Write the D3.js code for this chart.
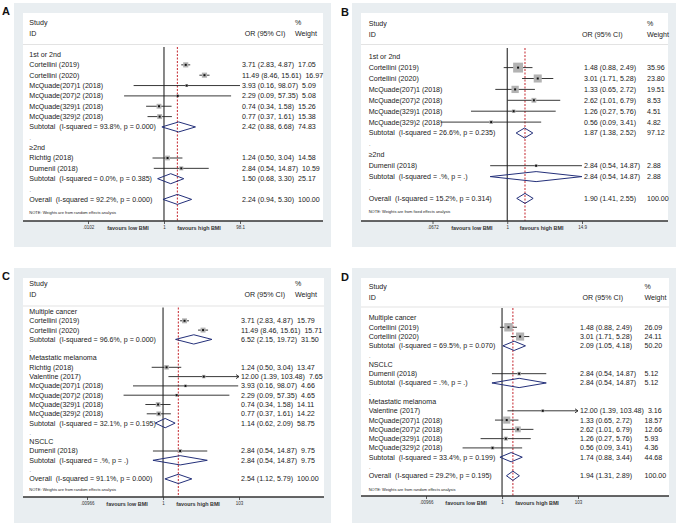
<!DOCTYPE html>
<html><head><meta charset="utf-8">
<script src="https://cdn.jsdelivr.net/npm/d3@7"></script>
<style>
html,body{margin:0;padding:0;background:#fff;}
svg{display:block;font-family:"Liberation Sans", Arial, Helvetica, sans-serif;}
text{white-space:pre;}
</style></head><body>
<svg id="chart" width="676" height="525"></svg>
<script>
// ---------- DATA ----------
// Panel A
const aLabels = ["1st or 2nd","Cortellini (2019)","Cortellini (2020)","McQuade(207)1 (2018)","McQuade(207)2 (2018)","McQuade(329)1 (2018)","McQuade(329)2 (2018)","Subtotal  (I-squared = 93.8%, p = 0.000)",".","\u22652nd","Richtig (2018)","Dumenil (2018)","Subtotal  (I-squared = 0.0%, p = 0.385)",".","Overall  (I-squared = 92.2%, p = 0.000)"];
const aKind = ["head","study","study","study","study","study","study","sub","blank","head","study","study","sub","blank","overall"];
const aOR = [null,3.71,11.49,3.93,2.29,0.74,0.77,2.42,null,null,1.24,2.84,1.50,null,2.24];
const aLo = [null,2.83,8.46,0.16,0.09,0.34,0.37,0.88,null,null,0.50,0.54,0.68,null,0.94];
const aHi = [null,4.87,15.61,98.07,57.35,1.58,1.61,6.68,null,null,3.04,14.87,3.30,null,5.30];
const aWt = [null,17.05,16.97,5.09,5.08,15.26,15.38,74.83,null,null,14.58,10.59,25.17,null,100.00];
const aTicks = [0.0102,1,98.1];
const aTickLabels = [".0102","1","98.1"];
const aNote = "NOTE: Weights are from random effects analysis";

// Panel B
const bLabels = ["1st or 2nd","Cortellini (2019)","Cortellini (2020)","McQuade(207)1 (2018)","McQuade(207)2 (2018)","McQuade(329)1 (2018)","McQuade(329)2 (2018)","Subtotal  (I-squared = 26.6%, p = 0.235)",".","\u22652nd","Dumenil (2018)","Subtotal  (I-squared = .%, p = .)",".","Overall  (I-squared = 15.2%, p = 0.314)"];
const bKind = ["head","study","study","study","study","study","study","sub","blank","head","study","sub","blank","overall"];
const bOR = [null,1.48,3.01,1.33,2.62,1.26,0.56,1.87,null,null,2.84,2.84,null,1.90];
const bLo = [null,0.88,1.71,0.65,1.01,0.27,0.09,1.38,null,null,0.54,0.54,null,1.41];
const bHi = [null,2.49,5.28,2.72,6.79,5.76,3.41,2.52,null,null,14.87,14.87,null,2.55];
const bWt = [null,35.96,23.80,19.51,8.53,4.51,4.82,97.12,null,null,2.88,2.88,null,100.00];
const bTicks = [0.0672,1,14.9];
const bTickLabels = [".0672","1","14.9"];
const bNote = "NOTE: Weights are from fixed effects analysis";

// Panel C
const cLabels = ["Multiple cancer","Cortellini (2019)","Cortellini (2020)","Subtotal  (I-squared = 96.6%, p = 0.000)",".","Metastatic melanoma","Richtig (2018)","Valentine (2017)","McQuade(207)1 (2018)","McQuade(207)2 (2018)","McQuade(329)1 (2018)","McQuade(329)2 (2018)","Subtotal  (I-squared = 32.1%, p = 0.195)",".","NSCLC","Dumenil (2018)","Subtotal  (I-squared = .%, p = .)",".","Overall  (I-squared = 91.1%, p = 0.000)"];
const cKind = ["head","study","study","sub","blank","head","study","study","study","study","study","study","sub","blank","head","study","sub","blank","overall"];
const cOR = [null,3.71,11.49,6.52,null,null,1.24,12.00,3.93,2.29,0.74,0.77,1.14,null,null,2.84,2.84,null,2.54];
const cLo = [null,2.83,8.46,2.15,null,null,0.50,1.39,0.16,0.09,0.34,0.37,0.62,null,null,0.54,0.54,null,1.12];
const cHi = [null,4.87,15.61,19.72,null,null,3.04,103.48,98.07,57.35,1.58,1.61,2.09,null,null,14.87,14.87,null,5.79];
const cWt = [null,15.79,15.71,31.50,null,null,13.47,7.65,4.66,4.65,14.11,14.22,58.75,null,null,9.75,9.75,null,100.00];
const cTicks = [0.00966,1,103];
const cTickLabels = [".00966","1","103"];
const cNote = "NOTE: Weights are from random effects analysis";

// Panel D
const dLabels = ["Multiple cancer","Cortellini (2019)","Cortellini (2020)","Subtotal  (I-squared = 69.5%, p = 0.070)",".","NSCLC","Dumenil (2018)","Subtotal  (I-squared = .%, p = .)",".","Metastatic melanoma","Valentine (2017)","McQuade(207)1 (2018)","McQuade(207)2 (2018)","McQuade(329)1 (2018)","McQuade(329)2 (2018)","Subtotal  (I-squared = 33.4%, p = 0.199)",".","Overall  (I-squared = 29.2%, p = 0.195)"];
const dKind = ["head","study","study","sub","blank","head","study","sub","blank","head","study","study","study","study","study","sub","blank","overall"];
const dOR = [null,1.48,3.01,2.09,null,null,2.84,2.84,null,null,12.00,1.33,2.62,1.26,0.56,1.74,null,1.94];
const dLo = [null,0.88,1.71,1.05,null,null,0.54,0.54,null,null,1.39,0.65,1.01,0.27,0.09,0.88,null,1.31];
const dHi = [null,2.49,5.28,4.18,null,null,14.87,14.87,null,null,103.48,2.72,6.79,5.76,3.41,3.44,null,2.89];
const dWt = [null,26.09,24.11,50.20,null,null,5.12,5.12,null,null,3.16,18.57,12.66,5.93,4.36,44.68,null,100.00];
const dTicks = [0.00966,1,103];
const dTickLabels = [".00966","1","103"];
const dNote = "NOTE: Weights are from random effects analysis";

const favLow = "favours low BMI", favHigh = "favours high BMI";

// ---------- LAYOUT ----------
const layouts = [
  {letter:"A", lx:2, ly:15, gx:14, gy:3, gw:317, gh:244, wx:23, wy:13, wr:323, axisY:221, studyY:23, idY:33.3, sepY:44.5, lineTop:47, row0:54.5, dy:10.35, noteY:212.5, xL:88, xR:240, labelX:29.3, ciX:287.3, wtX:295, boxK:1.25},
  {letter:"B", lx:341, ly:16, gx:352, gy:3, gw:324, gh:244, wx:361, wy:13, wr:668, axisY:221, studyY:24, idY:34.3, sepY:44.5, lineTop:48, row0:56.7, dy:10.9, noteY:212, xL:432.5, xR:582, labelX:368.7, ciX:624.5, wtX:647, boxK:1.65},
  {letter:"C", lx:2, ly:280, gx:14, gy:268, gw:317, gh:255, wx:23, wy:278, wr:324, axisY:497, studyY:284, idY:294.5, sepY:306, lineTop:307.5, row0:311.5, dy:9.3, noteY:490, xL:87, xR:239, labelX:29.3, ciX:287, wtX:295, boxK:1.25},
  {letter:"D", lx:341, ly:281, gx:352, gy:268, gw:324, gh:255, wx:361, wy:278, wr:669, axisY:496, studyY:287, idY:297.5, sepY:307, lineTop:308, row0:318, dy:9.28, noteY:490, xL:426, xR:578, labelX:368.7, ciX:625, wtX:644.5, boxK:1.65}
];
const datasets = [
  {labels:aLabels, kind:aKind, or:aOR, lo:aLo, hi:aHi, wt:aWt, ticks:aTicks, tickLabels:aTickLabels, note:aNote},
  {labels:bLabels, kind:bKind, or:bOR, lo:bLo, hi:bHi, wt:bWt, ticks:bTicks, tickLabels:bTickLabels, note:bNote},
  {labels:cLabels, kind:cKind, or:cOR, lo:cLo, hi:cHi, wt:cWt, ticks:cTicks, tickLabels:cTickLabels, note:cNote},
  {labels:dLabels, kind:dKind, or:dOR, lo:dLo, hi:dHi, wt:dWt, ticks:dTicks, tickLabels:dTickLabels, note:dNote}
];

const svg = d3.select("#chart");
const f2 = d3.format(".2f");
const FS = 7.1, TXT = "#222";

function drawPanel(L, D) {
  const g = svg.append("g");
  g.append("rect").attr("x",L.gx).attr("y",L.gy).attr("width",L.gw).attr("height",L.gh).attr("fill","#e9eef1");
  g.append("rect").attr("x",L.wx).attr("y",L.wy).attr("width",L.wr-L.wx).attr("height",L.axisY-L.wy).attr("fill","#ffffff");
  svg.append("text").attr("x",L.lx).attr("y",L.ly).text(L.letter)
     .attr("font-weight","bold").attr("font-size",11).attr("fill","#111");

  const tMin = D.ticks[0], tMax = D.ticks[D.ticks.length-1];
  const x = d3.scaleLog().domain([tMin, tMax]).range([L.xL, L.xR]).clamp(true);
  const y = d3.scaleLinear().domain([0,1]).range([L.row0, L.row0 + L.dy]);

  const txt = (xx, yy, s, opts={}) => g.append("text").attr("x",xx).attr("y",yy).attr("dy","0.35em")
      .attr("font-size",opts.fs||FS).attr("fill",opts.fill||TXT)
      .attr("text-anchor",opts.anchor||"start").attr("font-weight",opts.fw||"normal").text(s);

  // headers
  txt(L.labelX, L.studyY, "Study");
  txt(L.labelX, L.idY, "ID");
  txt(L.ciX-2, L.idY, "OR (95% CI)", {anchor:"end"});
  txt(L.wtX, L.studyY, "%");
  txt(L.wtX, L.idY, "Weight");
  g.append("line").attr("x1",L.wx).attr("x2",L.wr).attr("y1",L.sepY).attr("y2",L.sepY)
     .attr("stroke","#dcdcdc").attr("stroke-width",0.8);

  // overall dashed line
  const oi = D.kind.indexOf("overall");
  g.append("line").attr("x1",x(D.or[oi])).attr("x2",x(D.or[oi])).attr("y1",L.lineTop).attr("y2",L.axisY)
     .attr("stroke","#c4262e").attr("stroke-width",1).attr("stroke-dasharray","2,1.5");
  // null line
  g.append("line").attr("x1",x(1)).attr("x2",x(1)).attr("y1",L.lineTop).attr("y2",L.axisY)
     .attr("stroke","#111").attr("stroke-width",1);

  D.labels.forEach((lab, i) => {
    const k = D.kind[i], yy = y(i);
    txt(L.labelX, yy, lab, k==="blank" ? {fill:"#aaa"} : {});
    if (k === "study") {
      const x0 = x(D.lo[i]), x1 = x(D.hi[i]);
      g.append("line").attr("x1",x0).attr("x2",x1).attr("y1",yy).attr("y2",yy)
        .attr("stroke","#222").attr("stroke-width",0.9);
      if (D.hi[i] > tMax) {
        g.append("path").attr("d",`M${x1-3},${yy-2}L${x1},${yy}L${x1-3},${yy+2}`)
          .attr("fill","none").attr("stroke","#222").attr("stroke-width",0.9);
      }
      const s = L.boxK * Math.sqrt(D.wt[i]);
      const cx = x(D.or[i]);
      g.append("rect").attr("x",cx-s/2).attr("y",yy-s/2).attr("width",s).attr("height",s).attr("fill","#b3b3b3");
      g.append("rect").attr("x",cx-1).attr("y",yy-1).attr("width",2).attr("height",2).attr("fill","#111");
    }
    if (k === "sub" || k === "overall") {
      const h = Math.min(5, L.dy*0.5);
      const xl = x(D.lo[i]), xm = x(D.or[i]), xr = x(D.hi[i]);
      g.append("path").attr("d",`M${xl},${yy}L${xm},${yy-h}L${xr},${yy}L${xm},${yy+h}Z`)
        .attr("fill","none").attr("stroke","#24307a").attr("stroke-width",1);
    }
    if (k === "study" || k === "sub" || k === "overall") {
      const ci = `${f2(D.or[i])} (${f2(D.lo[i])}, ${f2(D.hi[i])})`;
      const t = txt(L.ciX, yy, ci, {anchor:"end"});
      let wx = L.wtX;
      const bb = t.node().getBBox();
      if (bb.x < L.xR + 2) {
        t.attr("text-anchor","start").attr("x", L.xR + 2);
        wx = Math.max(L.wtX, L.xR + 2 + bb.width + 4);
      }
      txt(wx, yy, f2(D.wt[i]));
    }
  });

  // note
  txt(L.labelX, L.noteY, D.note, {fs:4});

  // axis
  g.append("line").attr("x1",L.wx).attr("x2",L.wr).attr("y1",L.axisY).attr("y2",L.axisY)
    .attr("stroke","#333").attr("stroke-width",1.3);
  const ax = g.append("g").attr("transform",`translate(0,${L.axisY})`)
    .call(d3.axisBottom(x).tickValues(D.ticks).tickFormat((d,i)=>D.tickLabels[i]).tickSize(3).tickPadding(1.5));
  ax.select(".domain").remove();
  ax.selectAll(".tick line").attr("stroke","#333").attr("stroke-width",0.8);
  ax.selectAll(".tick text").attr("font-size",4.5).attr("fill","#333").attr("font-family","Liberation Sans, Arial, sans-serif");
  const x1p = x(1);
  g.append("text").attr("x",(L.xL+x1p)/2+2).attr("y",L.axisY+7).attr("dy","0.35em").attr("text-anchor","middle")
    .attr("font-size",5.4).attr("font-weight","bold").attr("fill","#333").text(favLow);
  g.append("text").attr("x",(x1p+L.xR)/2-3).attr("y",L.axisY+7).attr("dy","0.35em").attr("text-anchor","middle")
    .attr("font-size",5.4).attr("font-weight","bold").attr("fill","#333").text(favHigh);
}

layouts.forEach((L, i) => drawPanel(L, datasets[i]));
</script></body></html>
